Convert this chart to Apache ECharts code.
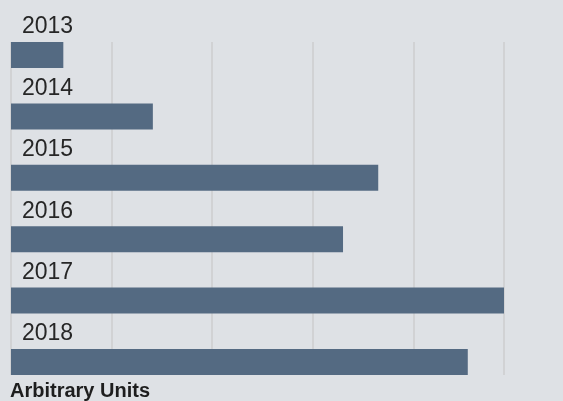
<!DOCTYPE html>
<html>
<head>
<meta charset="utf-8">
<script src="https://cdn.jsdelivr.net/npm/echarts@6/dist/echarts.min.js"></script>
<style>
html,body{margin:0;padding:0;background:#dee1e5;}
#chart{width:563px;height:401px;}
</style>
</head>
<body>
<div id="chart"></div>
<script>
const categories = ['2013', '2014', '2015', '2016', '2017', '2018'];
const values = [5.2, 14.1, 36.5, 33.0, 49.0, 45.4];
const axisMin = 0;
const axisMax = 49;
const axisInterval = 10;
const unitLabel = 'Arbitrary Units';

const FONT = '"Liberation Sans", Arial, Helvetica, sans-serif';
const chart = echarts.init(document.getElementById('chart'), null, {renderer: 'canvas'});
chart.setOption({
  backgroundColor: '#dee1e5',
  animation: false,
  grid: [
    {left: 11, right: 59, top: 24.3, bottom: 8.3},
    {left: 11, right: 59, top: 42, bottom: 26}
  ],
  xAxis: [
    {type: 'value', gridIndex: 0, min: axisMin, max: axisMax, interval: axisInterval, show: false},
    {type: 'value', gridIndex: 1, min: axisMin, max: axisMax, interval: axisInterval,
     axisLine: {show: false}, axisTick: {show: false}, axisLabel: {show: false},
     splitLine: {show: true, lineStyle: {color: '#d1d2d4', width: 2}}}
  ],
  yAxis: [
    {type: 'category', gridIndex: 0, data: categories, inverse: true, show: false},
    {type: 'category', gridIndex: 1, data: categories, inverse: true, show: false}
  ],
  series: [{
    type: 'bar',
    xAxisIndex: 0,
    yAxisIndex: 0,
    data: values,
    barWidth: 26,
    itemStyle: {color: '#546a82'},
    label: {
      show: true,
      formatter: '{b}',
      position: [11, -15],
      align: 'left',
      verticalAlign: 'middle',
      color: '#262626',
      fontSize: 23,
      fontFamily: FONT
    }
  }],
  graphic: [{
    type: 'text',
    left: 10,
    top: 381,
    style: {
      text: unitLabel,
      fill: '#1e1e1e',
      font: 'bold 20px ' + FONT
    }
  }]
});
</script>
</body>
</html>
